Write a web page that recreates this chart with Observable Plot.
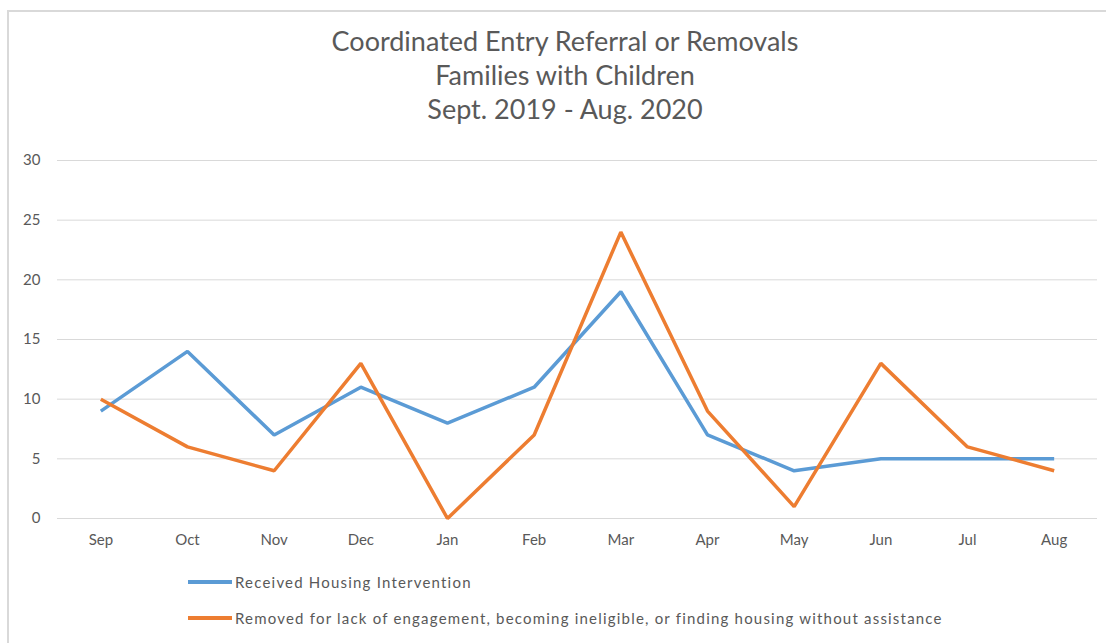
<!DOCTYPE html>
<html>
<head>
<meta charset="utf-8">
<script src="https://cdn.jsdelivr.net/npm/d3@7"></script>
<script src="https://cdn.jsdelivr.net/npm/@observablehq/plot@0.6"></script>
<style>
  html, body { margin: 0; padding: 0; background: #fff; }
  body { width: 1106px; height: 643px; position: relative; overflow: hidden; font-family: Lato, "Open Sans", sans-serif; }
  #frame { position: absolute; left: 7px; top: 10px; width: 1110px; height: 650px; border: 2px solid #d9d9d9; box-sizing: border-box; }
  #title { position: absolute; left: 0; top: 24px; width: 1130px; text-align: center; color: #595959; font-size: 27px; line-height: 34px; }
  #chart { position: absolute; left: 0; top: 140px; }
  .leg { position: absolute; left: 188px; font-size: 15px; letter-spacing: 1.2px; color: #595959; display: flex; align-items: center; }
  .leg span.sw { display: inline-block; width: 44px; height: 3.5px; margin-right: 3px; }
</style>
</head>
<body>
<div id="frame"></div>
<div id="title">Coordinated Entry Referral or Removals<br>Families with Children<br>Sept. 2019 - Aug. 2020</div>
<div id="chart"></div>
<div class="leg" id="leg1" style="top:573px"></div>
<div class="leg" id="leg2" style="top:609px"></div>
<script>
const months = ["Sep","Oct","Nov","Dec","Jan","Feb","Mar","Apr","May","Jun","Jul","Aug"];
const received = [9, 14, 7, 11, 8, 11, 19, 7, 4, 5, 5, 5];
const removed = [10, 6, 4, 13, 0, 7, 24, 9, 1, 13, 6, 4];
const seriesNames = ["Received Housing Intervention", "Removed for lack of engagement, becoming ineligible, or finding housing without assistance"];
const seriesColors = ["#5b9bd5", "#ed7d31"];
const yTicks = [0, 5, 10, 15, 20, 25, 30];

const data = [];
months.forEach((m, i) => {
  data.push({month: m, value: received[i], series: seriesNames[0]});
  data.push({month: m, value: removed[i], series: seriesNames[1]});
});

const chart = Plot.plot({
  width: 1106,
  height: 420,
  marginLeft: 57,
  marginRight: 9,
  marginTop: 20,
  marginBottom: 42,
  style: {fontFamily: "Lato, 'Open Sans', sans-serif", fontSize: "15px", color: "#595959", background: "transparent"},
  x: {type: "band", domain: months, padding: 0, round: false, label: null, tickSize: 0, tickPadding: 16},
  y: {domain: [0, 30], ticks: yTicks, label: null, tickSize: 0, tickPadding: 17},
  color: {domain: seriesNames, range: seriesColors},
  marks: [
    Plot.gridY(yTicks, {stroke: "#d9d9d9", strokeOpacity: 1, strokeWidth: 1}),
    Plot.axisX({tickSize: 0, tickPadding: 16, fill: "#595959", fontSize: 15}),
    Plot.axisY({ticks: yTicks, tickSize: 0, tickPadding: 17, fill: "#595959", fontSize: 15}),
    Plot.line(data, {x: "month", y: "value", z: "series", stroke: "series", strokeWidth: 3.5, strokeLinejoin: "miter", strokeLinecap: "butt"})
  ]
});
document.getElementById("chart").appendChild(chart);

[["leg1", 0], ["leg2", 1]].forEach(([id, i]) => {
  const el = document.getElementById(id);
  const sw = document.createElement("span");
  sw.className = "sw";
  sw.style.background = seriesColors[i];
  el.appendChild(sw);
  el.appendChild(document.createTextNode(seriesNames[i]));
});
</script>
</body>
</html>
